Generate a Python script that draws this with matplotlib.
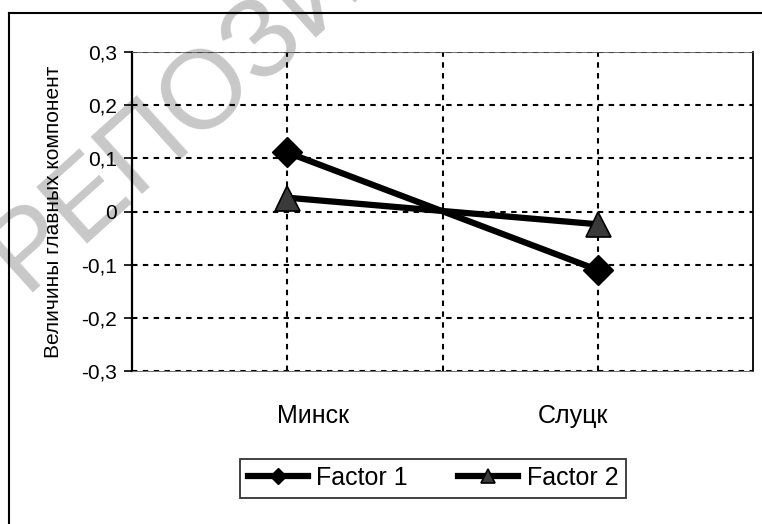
import matplotlib
matplotlib.use("Agg")
import matplotlib.pyplot as plt
from matplotlib.lines import Line2D

plt.rcParams['font.family'] = ['Liberation Sans', 'DejaVu Sans']

cities = ['Минск', 'Слуцк']
factor1 = [0.111, -0.110]
factor2 = [0.026, -0.024]
yticks = [-0.3, -0.2, -0.1, 0.0, 0.1, 0.2, 0.3]
ylabel = 'Величины главных компонент'
watermark = 'РЕПОЗИТОРИЙ'

W, H = 762, 524
fig = plt.figure(figsize=(W / 100, H / 100), dpi=100)

# watermark behind everything
fig.text(24 / W, 1 - 292 / H, watermark, fontsize=80, color='#c8c8c8',
         rotation=42, rotation_mode='anchor', ha='left', va='baseline', zorder=-5)

# outer frame (clipped on right and bottom)
fig.add_artist(Line2D([9 / W, 9 / W], [0, 1 - 13 / H], color='black', lw=1.5))
fig.add_artist(Line2D([9 / W, 1], [1 - 13 / H, 1 - 13 / H], color='black', lw=1.5))

ax = fig.add_axes([132 / W, 1 - 371 / H, (753 - 132) / W, (371 - 52) / H])
ax.set_facecolor('none')

x = [1, 2]
ax.plot(x, factor1, color='black', lw=4.5, marker='D', ms=15,
        mfc='black', mec='black', label='Factor 1', zorder=4)
ax.plot(x, factor2, color='black', lw=4.5, marker='^', ms=18,
        mfc='#3a3a3a', mec='black', mew=1.2, label='Factor 2', zorder=3)

ax.set_xlim(0.5, 2.5)
ax.set_ylim(-0.3, 0.3)
ax.set_yticks(yticks)
ax.set_yticklabels([f'{v:.1f}'.replace('.', ',') if v != 0 else '0' for v in yticks],
                   fontsize=15)
# category labels sit a bit inward of the points, as in the source
ax.set_xticks([x[0] + 0.083, x[1] - 0.08])
ax.set_xticklabels(cities, fontsize=18)
ax.tick_params(axis='x', length=0, pad=24)
ax.tick_params(axis='y', direction='out', length=6, width=1.2, pad=5)

dash = (0, (2.6, 2.6))
for v in yticks:
    ax.axhline(v, color='black', lw=1.5, ls=dash, zorder=1)
for v in [1, 1.5, 2]:
    ax.axvline(v, color='black', lw=1.5, ls=dash, zorder=1)

for s in ['top', 'bottom']:
    ax.spines[s].set_linewidth(0.6)
    ax.spines[s].set_color('#555555')
ax.spines['left'].set_linewidth(1.6)
ax.spines['right'].set_linewidth(1.3)

ax.set_ylabel(ylabel, fontsize=15, labelpad=13)

leg = fig.legend(loc='center', bbox_to_anchor=(433 / W, 1 - 478 / H), ncol=2,
                 fontsize=18, frameon=True, fancybox=False, edgecolor='black',
                 handlelength=2.4, handletextpad=0.35, columnspacing=2.0,
                 borderpad=0.3, markerscale=0.55)
leg.get_frame().set_linewidth(1.3)

fig.savefig('out.png', dpi=100)
